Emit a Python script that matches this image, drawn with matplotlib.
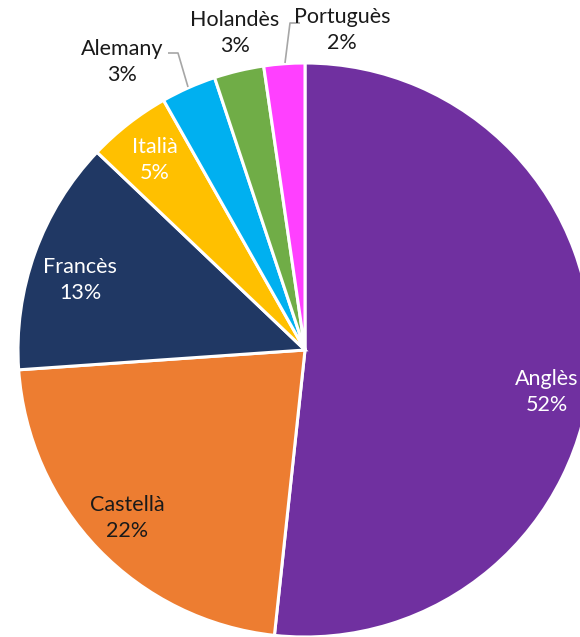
import matplotlib
matplotlib.use("Agg")
import matplotlib.pyplot as plt

# languages, clockwise from 12 o'clock
languages = ["Anglès", "Castellà", "Francès", "Italià", "Alemany", "Holandès", "Portuguès"]
shares = [51.7, 22.2, 13.2, 4.7, 3.1, 2.8, 2.3]
colors = ["#7030A0", "#ED7D31", "#203864", "#FFC000", "#00B0F0", "#70AD47", "#FF40FF"]
text_colors = ["white", "#1a1a1a", "white", "white", "#1a1a1a", "#1a1a1a", "#1a1a1a"]

# label centres (pie radius = 1)
label_pos = [(0.843, -0.146), (-0.62, -0.585), (-0.784, 0.244), (-0.523, 0.662),
             (-0.638, 1.003), (-0.244, 1.105), (0.129, 1.115)]

plt.rcParams['font.family'] = ['Lato', 'DejaVu Sans']

fig = plt.figure(figsize=(5.8, 6.37), dpi=100)
ax = fig.add_axes([0, 0, 1, 1])

R = 287.0
cx, cy = 305.0, 350.0
wedges, _ = ax.pie(shares, colors=colors, startangle=90, counterclock=False,
                   radius=1.0, wedgeprops=dict(edgecolor="white", linewidth=2.2))

ax.set_xlim(-cx / R, (580 - cx) / R)
ax.set_ylim(-(637 - cy) / R, cy / R)
ax.set_aspect("auto")
ax.axis("off")

total = sum(shares)
for name, val, tc, (x, y) in zip(languages, shares, text_colors, label_pos):
    ax.text(x, y, f"{name}\n{round(val / total * 100):.0f}%", ha="center", va="center",
            color=tc, fontsize=15.5, linespacing=1.4)

# leader lines for the small outer slices
def px(x, y):
    return ((x - cx) / R, (cy - y) / R)

for pts in ([(168, 53), (178, 53), (188, 87)], [(300, 23), (290, 23), (285, 63)]):
    xs, ys = zip(*[px(*p) for p in pts])
    ax.plot(xs, ys, color="#A6A6A6", linewidth=1.2, solid_capstyle="butt")

fig.savefig("out.png", dpi=100)
